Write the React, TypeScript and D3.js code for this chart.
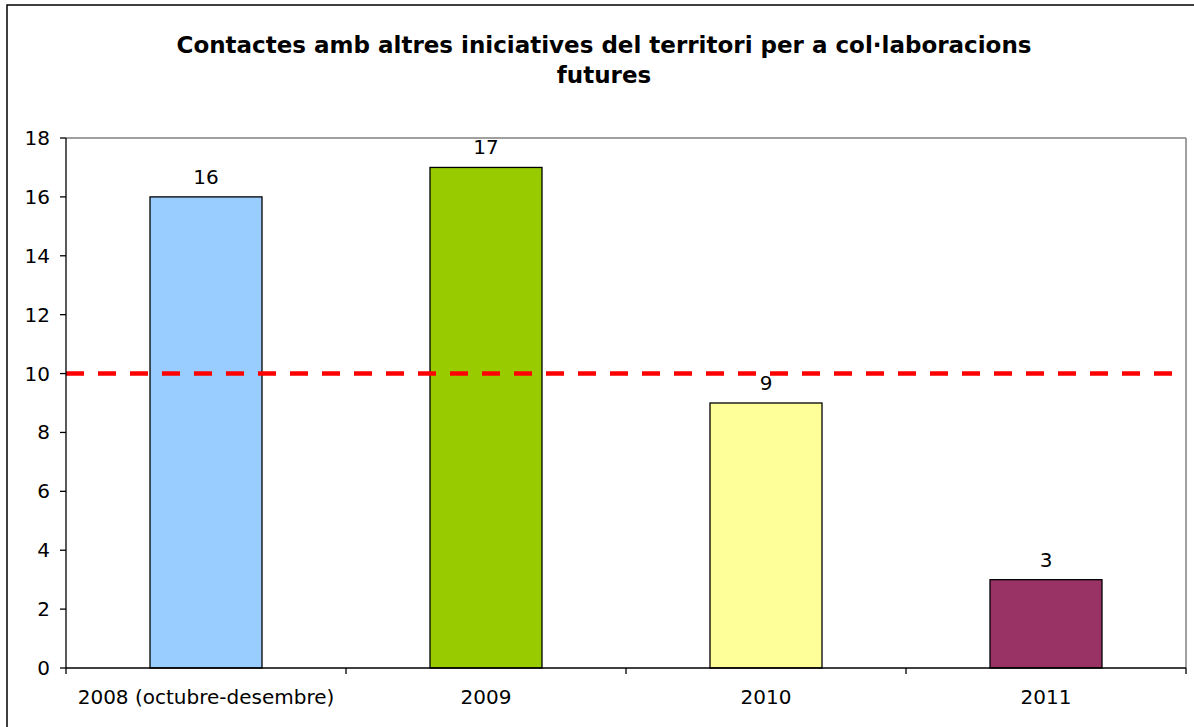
import React from "react";
import * as d3 from "d3";

const categories = ["2008 (octubre-desembre)", "2009", "2010", "2011"];
const values = [16, 17, 9, 3];
const colors = ["#99CCFF", "#99CC00", "#FFFF99", "#993366"];
const yTicks = [0, 2, 4, 6, 8, 10, 12, 14, 16, 18];
const targetValue = 10;
const titleLines = ["Contactes amb altres iniciatives del territori per a col·laboracions", "futures"];

export default function App() {
  const W = 1194, H = 727;
  const left = 66, right = 1186, top = 138, bottom = 668;
  const x = d3.scaleBand<string>().domain(categories).range([left, right]).paddingInner(0).paddingOuter(0);
  const y = d3.scaleLinear().domain([0, 18]).range([bottom, top]);
  const bw = x.bandwidth() * 0.4;
  const font = "'DejaVu Sans', Verdana, sans-serif";
  const boundaries = d3.range(categories.length + 1).map((i) => left + i * x.bandwidth());
  return (
    <svg width={W} height={H} style={{ position: "absolute", left: 0, top: 0, background: "#fff" }} fontFamily={font}>
      <rect x={7} y={5} width={1200} height={740} fill="#fff" stroke="#000" strokeWidth={1.5} />
      {titleLines.map((t, i) => (
        <text key={i} x={604} y={53 + i * 30} textAnchor="middle" fontSize={23} fontWeight="bold" fill="#000">{t}</text>
      ))}
      <line x1={left} x2={right} y1={top} y2={top} stroke="#808080" strokeWidth={1.5} />
      <line x1={right} x2={right} y1={top} y2={bottom} stroke="#808080" strokeWidth={1.5} />
      {categories.map((c, i) => (
        <g key={c}>
          <rect x={x(c)! + (x.bandwidth() - bw) / 2} y={y(values[i])} width={bw} height={bottom - y(values[i])} fill={colors[i]} stroke="#000" strokeWidth={1.3} />
          <text x={x(c)! + x.bandwidth() / 2} y={y(values[i]) - 13} textAnchor="middle" fontSize={20} fill="#000">{values[i]}</text>
          <text x={x(c)! + x.bandwidth() / 2} y={704} textAnchor="middle" fontSize={20} fill="#000">{c}</text>
        </g>
      ))}
      <line x1={left} x2={1174} y1={y(targetValue)} y2={y(targetValue)} stroke="#FF0000" strokeWidth={4.5} strokeDasharray="18,14" />
      <line x1={left} x2={left} y1={top} y2={bottom} stroke="#000" strokeWidth={1.3} />
      <line x1={left} x2={right} y1={bottom} y2={bottom} stroke="#000" strokeWidth={1.3} />
      {yTicks.map((t) => (
        <g key={t}>
          <line x1={left - 6} x2={left} y1={y(t)} y2={y(t)} stroke="#000" strokeWidth={1.3} />
          <text x={left - 16} y={y(t)} dy="0.35em" textAnchor="end" fontSize={20} fill="#000">{t}</text>
        </g>
      ))}
      {boundaries.map((b, i) => (
        <line key={i} x1={b} x2={b} y1={bottom} y2={bottom + 6} stroke="#000" strokeWidth={1.3} />
      ))}
    </svg>
  );
}
